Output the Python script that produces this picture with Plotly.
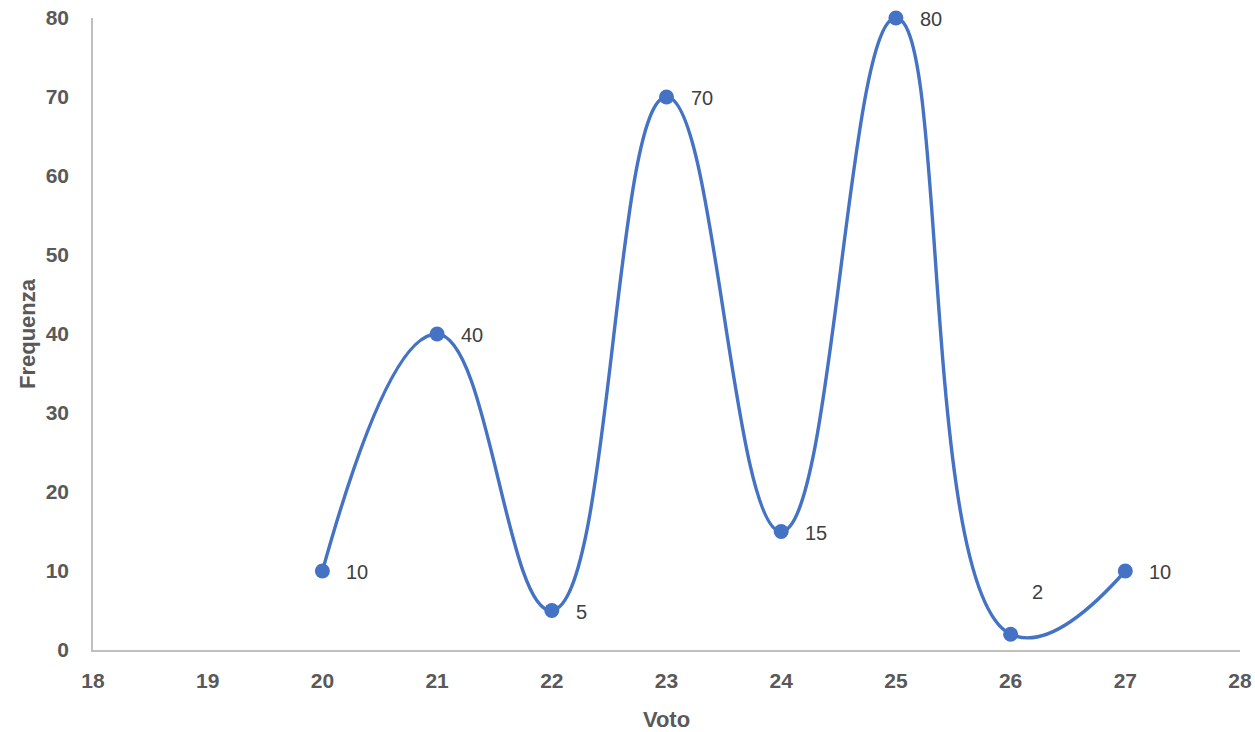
import plotly.graph_objects as go

voto = [20, 21, 22, 23, 24, 25, 26, 27]
frequenza = [10, 40, 5, 70, 15, 80, 2, 10]
x_ticks = list(range(18, 29))
y_ticks = list(range(0, 81, 10))

FONT = "Liberation Sans, Arial, sans-serif"

fig = go.Figure()
fig.add_trace(go.Scatter(
    x=voto, y=frequenza, mode="lines+markers",
    line=dict(color="#4472C4", width=3.4, shape="spline", smoothing=1.3),
    marker=dict(color="#4472C4", size=15),
    cliponaxis=False,
    hoverinfo="x+y", showlegend=False,
))

for xv, yv in zip(voto, frequenza):
    ys = 42 if yv == 2 else -1
    xs = 19 if yv == 2 else 22
    fig.add_annotation(x=xv, y=yv, text=str(yv), showarrow=False,
                       xanchor="left", yanchor="middle", xshift=xs, yshift=ys,
                       font=dict(family=FONT, size=20, color="#404040"))

axis_font = dict(family=FONT, size=21, color="#595959")
title_font = dict(family=FONT, size=22, color="#595959")
fig.update_layout(
    width=1255, height=732,
    margin=dict(l=93, r=15, t=18, b=82),
    plot_bgcolor="white", paper_bgcolor="white",
    xaxis=dict(range=[18, 28], tickvals=x_ticks, ticktext=[f"<b>{t}</b>" for t in x_ticks],
               showgrid=False, zeroline=False, showline=True, linecolor="#BFBFBF", linewidth=1.5,
               ticks="", tickfont=axis_font, ticklabelstandoff=11, automargin=False,
               title=dict(text="<b>Voto</b>", font=title_font, standoff=22)),
    yaxis=dict(range=[0, 80], tickvals=y_ticks, ticktext=[f"<b>{t}</b>" for t in y_ticks],
               showgrid=False, zeroline=False, showline=True, linecolor="#BFBFBF", linewidth=1.5,
               ticks="", tickfont=axis_font, ticklabelstandoff=18, automargin=False,
               title=dict(text="<b>Frequenza</b>", font=title_font, standoff=4)),
)

fig.write_html("out.html", config={"displayModeBar": False},
               post_script="document.body.style.margin='0';document.body.style.overflow='hidden';")
